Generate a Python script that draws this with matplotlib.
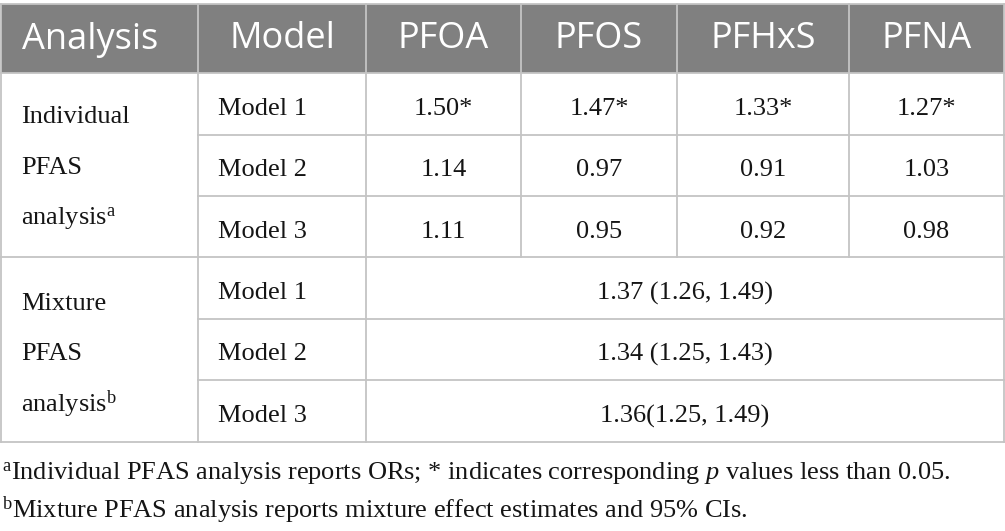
import matplotlib
matplotlib.use('Agg')
import matplotlib.pyplot as plt
from matplotlib.patches import Rectangle

plt.rcParams['mathtext.fontset'] = 'custom'
plt.rcParams['mathtext.rm'] = 'Liberation Serif'
plt.rcParams['mathtext.it'] = 'Liberation Serif:italic'

# table content
headers = ['Analysis', 'Model', 'PFOA', 'PFOS', 'PFHxS', 'PFNA']
models = ['Model 1', 'Model 2', 'Model 3']
individual_vals = [
    ['1.50*', '1.47*', '1.33*', '1.27*'],
    ['1.14', '0.97', '0.91', '1.03'],
    ['1.11', '0.95', '0.92', '0.98'],
]
mixture_vals = ['1.37 (1.26, 1.49)', '1.34 (1.25, 1.43)', '1.36(1.25, 1.49)']
group_labels = [['Individual', 'PFAS', r'analysis$^{\mathrm{a}}$'],
                ['Mixture', 'PFAS', r'analysis$^{\mathrm{b}}$']]
footnotes = [
    r'$^{\mathrm{a}}$Individual PFAS analysis reports ORs; * indicates corresponding $\mathit{p}$ values less than 0.05.',
    r'$^{\mathrm{b}}$Mixture PFAS analysis reports mixture effect estimates and 95% CIs.',
]

# layout in pixels
W, H = 1005, 531
col_x = [1, 198, 366, 521, 677, 849, 1004]
header_top, header_bot = 4, 73
row_y = [73, 135, 196, 257, 319, 380, 442]
grid_col = '#c4c4c4'
head_col = '#808080'
txt_col = '#151515'
serif = 'Liberation Serif'
sans = 'Open Sans'
body_fs = 19
head_fs = 26

fig = plt.figure(figsize=(W / 100, H / 100), dpi=100)
ax = fig.add_axes([0, 0, 1, 1])
ax.set_xlim(0, W)
ax.set_ylim(H, 0)
ax.axis('off')

# header band
ax.add_patch(Rectangle((col_x[0], header_top), col_x[-1] - col_x[0],
                       header_bot - header_top, facecolor=head_col,
                       edgecolor='none'))
for i, h in enumerate(headers):
    cx = (col_x[i] + col_x[i + 1]) / 2
    if i == 0:
        ax.text(22, (header_top + header_bot) / 2 + 1, h, color='white',
                fontsize=head_fs, family=sans, ha='left', va='center')
    else:
        ax.text(cx, (header_top + header_bot) / 2 + 1, h, color='white',
                fontsize=head_fs, family=sans, ha='center', va='center')

# grid lines
lw = 1.3
ax.plot([col_x[0], col_x[-1]], [header_top, header_top], color=grid_col, lw=lw)
for i, x in enumerate(col_x):
    bottom = row_y[-1] if i in (0, 1, 2, 6) else row_y[3]
    ax.plot([x, x], [header_top, bottom], color=grid_col, lw=lw)
for k in [0, 3, 6]:
    ax.plot([col_x[0], col_x[-1]], [row_y[k], row_y[k]], color=grid_col, lw=lw)
for k in [1, 2, 4, 5]:
    ax.plot([col_x[1], col_x[-1]], [row_y[k], row_y[k]], color=grid_col, lw=lw)

# group labels
group_y = [[117, 168, 219], [304, 354, 404]]
for labels, ys in zip(group_labels, group_y):
    for lab, y in zip(labels, ys):
        ax.text(21, y, lab, fontsize=body_fs, family=serif, ha='left',
                va='center', color=txt_col)

# model column and values
for g in range(2):
    for r, m in enumerate(models):
        y0 = row_y[g * 3 + r]
        y1 = row_y[g * 3 + r + 1]
        cy = (y0 + y1) / 2 + 5
        ax.text(218, cy, m, fontsize=body_fs, family=serif, ha='left',
                va='center', color=txt_col)
        if g == 0:
            for c, v in enumerate(individual_vals[r]):
                cx = (col_x[c + 2] + col_x[c + 3]) / 2
                ax.text(cx, cy, v, fontsize=body_fs, family=serif,
                        ha='center', va='center', color=txt_col)
        else:
            cx = (col_x[2] + col_x[-1]) / 2
            ax.text(cx, cy, mixture_vals[r], fontsize=body_fs, family=serif,
                    ha='center', va='center', color=txt_col)

# footnotes
for fn, y in zip(footnotes, [474, 510]):
    ax.text(2, y, fn, fontsize=body_fs, family=serif, ha='left',
            va='center', color=txt_col)

fig.savefig('out.png', dpi=100)
